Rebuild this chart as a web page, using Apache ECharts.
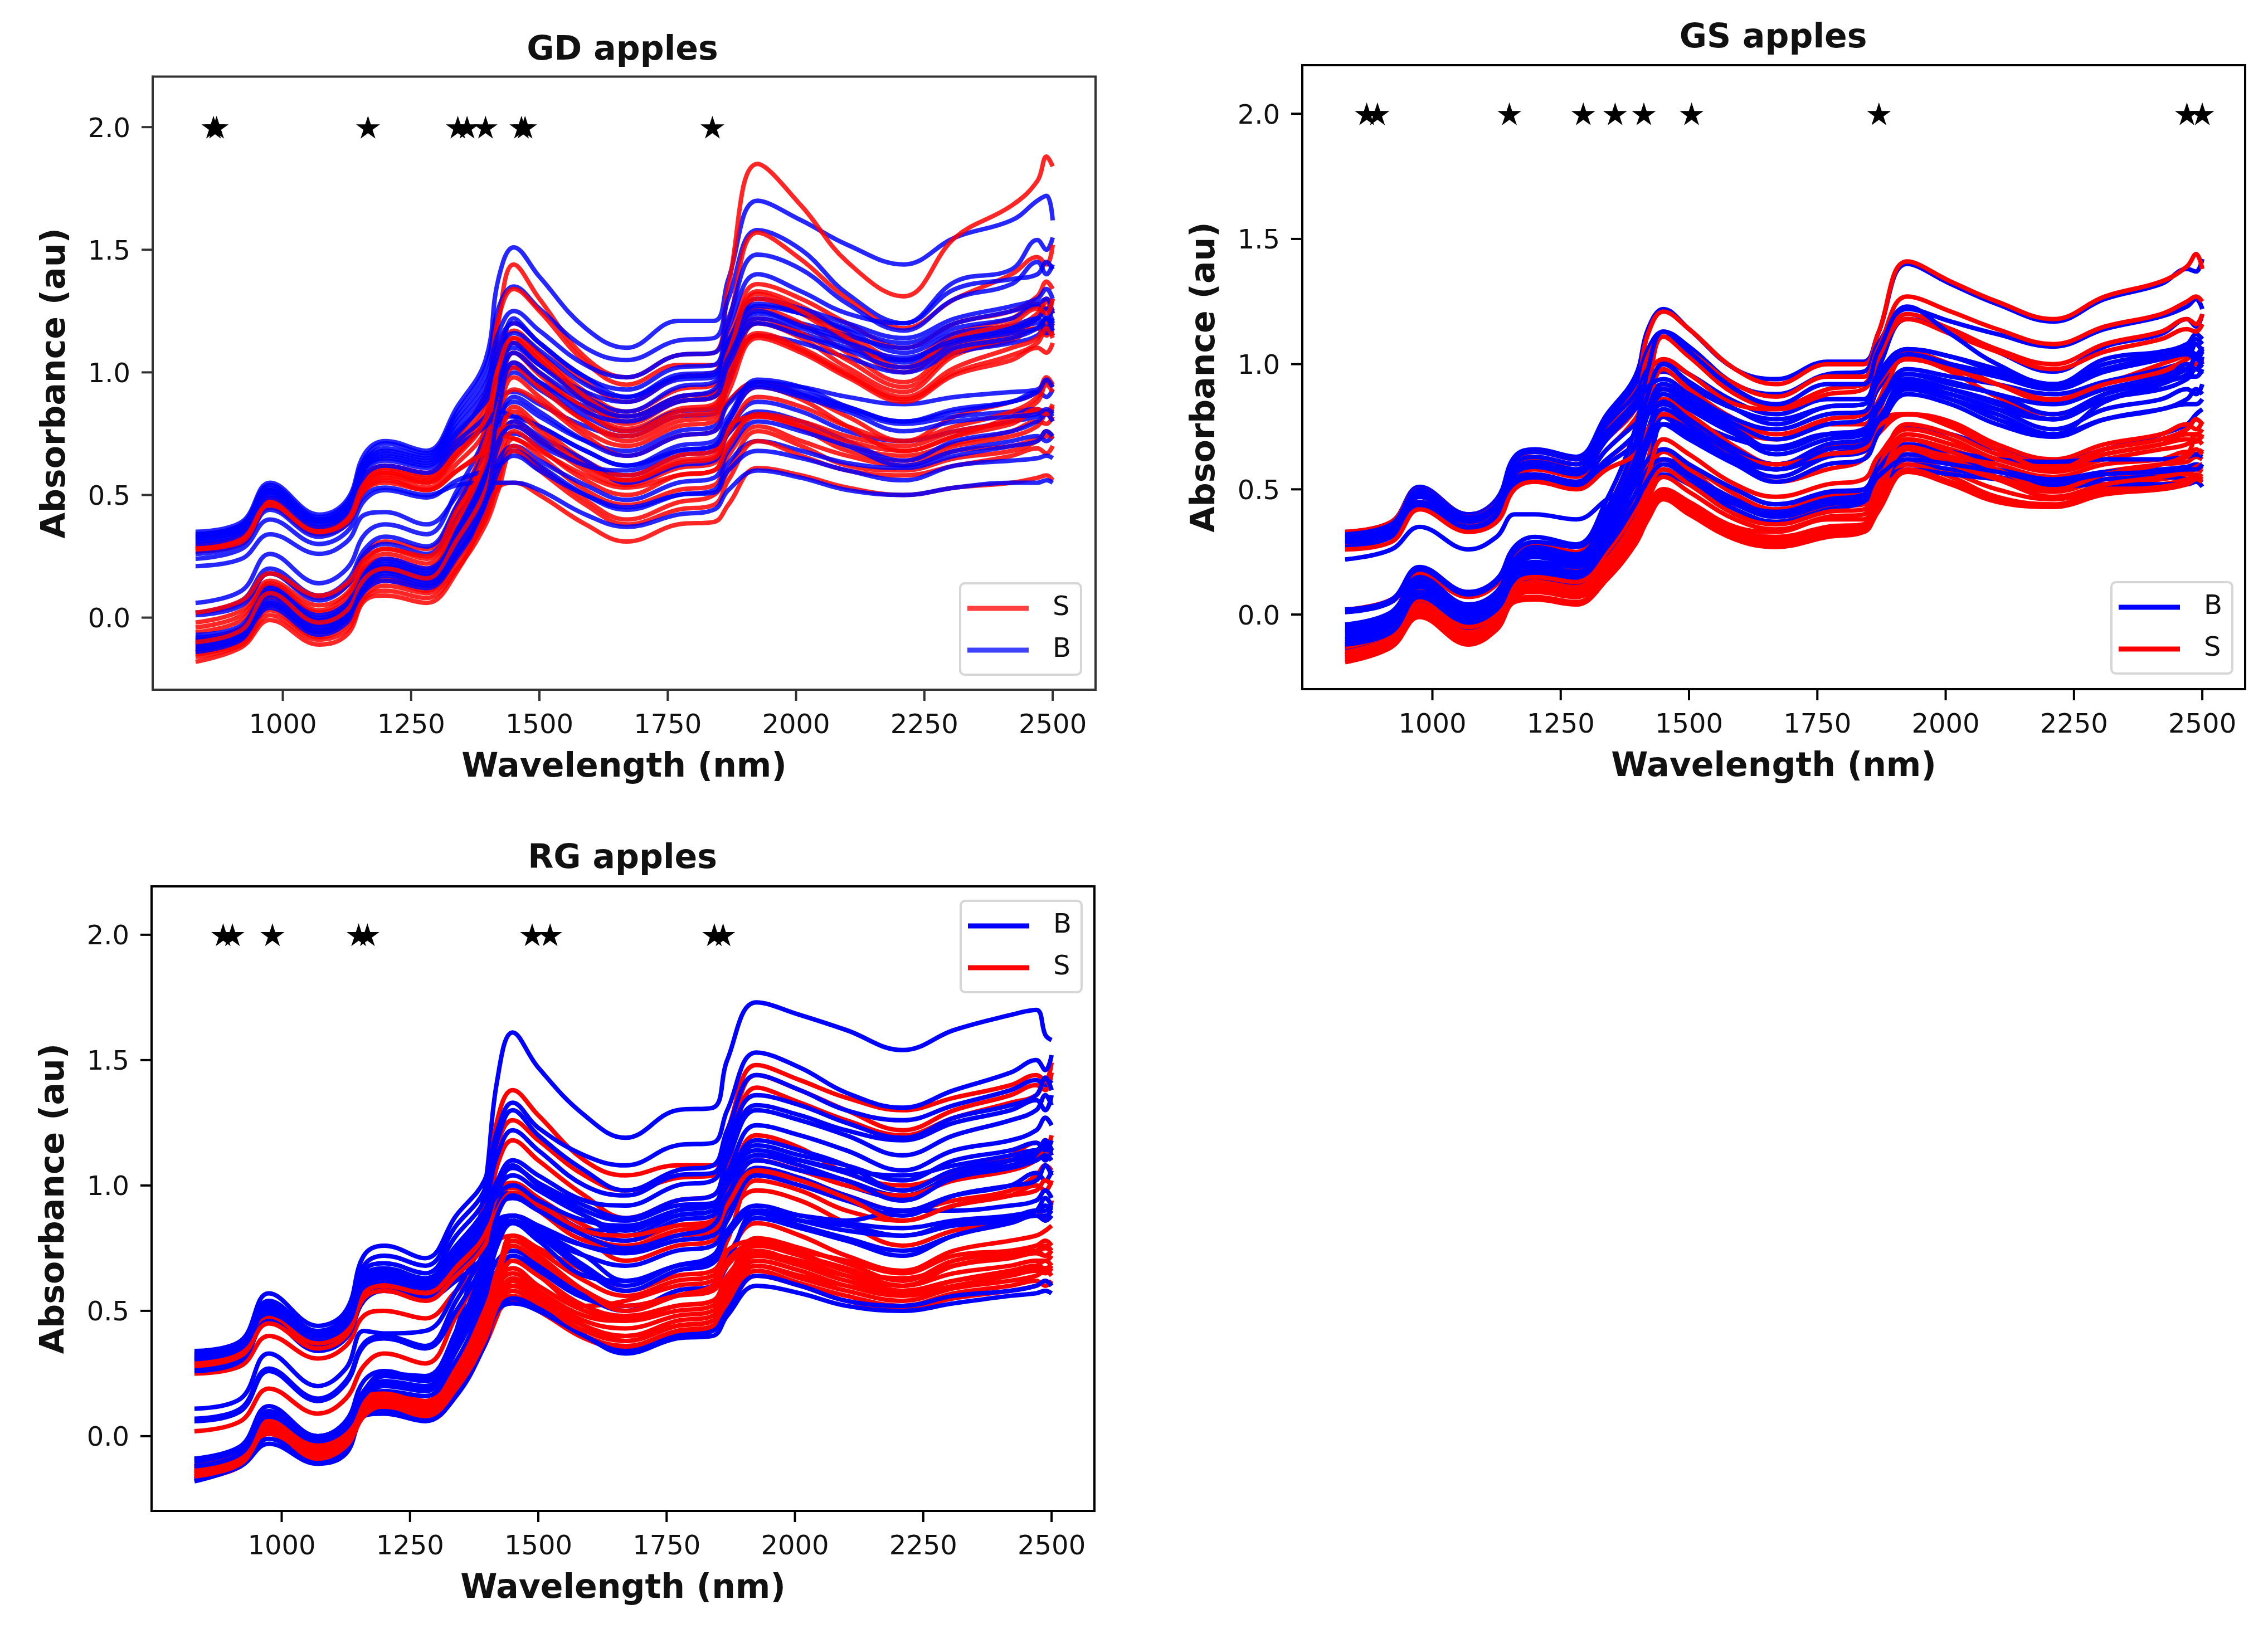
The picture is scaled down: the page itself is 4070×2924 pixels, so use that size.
<!DOCTYPE html>
<html><head><meta charset="utf-8"><style>html,body{margin:0;padding:0;background:#fff}#c{width:4070px;height:2924px}</style>
<script src="https://cdn.jsdelivr.net/npm/echarts@6/dist/echarts.min.js"></script></head><body><div id="c"></div>
<script>
const wavelengths=[830,920,975,1070,1125,1160,1200,1280,1340,1395,1420,1450,1500,1590,1670,1770,1840,1868,1925,2010,2100,2210,2310,2420,2470,2488,2500];
const tickX=[1000,1250,1500,1750,2000,2250,2500];
const tickY=[0,0.5,1,1.5,2];
const gdStars=[865,871,1166,1341,1359,1395,1465,1472,1837];
const gsStars=[872,893,1150,1294,1356,1412,1505,1870,2470,2500];
const rgStars=[886,904,982,1150,1167,1488,1523,1843,1860];
const gdBEnd=[1.72,1.50,1.40,1.45,1.34,1.22,1.26,.96,1.20,.90,.84,1.18,1.22,.83,.83,.72,.76,.66,.56,.97,1.30,1.16,1.22,.85];
const gdSEnd=[1.88,1.44,1.37,1.26,1.30,1.29,1.15,.98,1.17,1.20,1.08,.95,.79,.83,.74,.76,.67,.58,.97,.84,1.24,1.18,.83];
const gsBEnd=[1.37,1.26,1.15,1.12,1.02,1.08,.95,.80,1.10,1.02,.98,.90,.84,.64,.60,.53,.53,.98,1.04,.98,1.04,1.02,.88,.58];
const gsSEnd=[1.44,1.27,1.16,1.08,1.0,1.13,1.04,.74,.78,.69,.72,.64,.63,.59,.58,.56,.55,.54,.66,.78,.59,.70,.72];
const rgBEnd=[1.60,1.46,1.40,1.43,1.30,1.36,1.10,1.18,1.27,1.16,.98,1.18,.92,.86,.88,.95,.58,.62,1.02,1.08,1.14,1.16,1.12,.90];
const rgSEnd=[1.42,1.38,1.42,1.15,1.08,.98,.86,.82,.75,.72,.70,.65,.66,.60,.62,.67,.78,.72,1.14,1.02,.66,.70,.76];
const gdB=[
[.35,.39,.55,.42,.48,.67,.72,.68,.86,1.05,1.38,1.51,1.39,1.18,1.10,1.21,1.21,1.38,1.70,1.62,1.52,1.44,1.55,1.62,1.70,1.62],
[.34,.38,.54,.41,.47,.65,.71,.67,.84,1.02,1.26,1.35,1.26,1.10,1.05,1.13,1.14,1.30,1.58,1.50,1.32,1.20,1.37,1.42,1.54,1.55],
[.34,.38,.53,.40,.46,.64,.69,.66,.82,.98,1.16,1.25,1.17,1.03,.98,1.07,1.08,1.22,1.48,1.42,1.28,1.17,1.30,1.36,1.45,1.44],
[.33,.37,.52,.40,.45,.63,.68,.65,.80,.95,1.12,1.20,1.12,.98,.93,1.02,1.03,1.18,1.40,1.33,1.24,1.20,1.34,1.38,1.40,1.42],
[.33,.37,.52,.39,.45,.62,.67,.64,.78,.92,1.05,1.10,1.03,.92,.88,.97,.98,1.12,1.30,1.26,1.20,1.14,1.22,1.27,1.30,1.30],
[.32,.36,.51,.39,.44,.61,.66,.63,.76,.88,.98,1.02,.96,.86,.82,.90,.92,1.06,1.24,1.20,1.15,1.10,1.18,1.22,1.27,1.26],
[.31,.35,.50,.38,.43,.60,.64,.61,.72,.82,.90,.92,.87,.78,.74,.82,.83,.95,1.20,1.16,1.10,1.05,1.14,1.18,1.22,1.20],
[.21,.24,.34,.26,.31,.42,.43,.38,.50,.68,.82,.88,.82,.72,.68,.76,.78,.88,.96,.94,.90,.87,.90,.92,.93,.94],
[.06,.11,.26,.14,.20,.34,.38,.34,.52,.74,.90,1.00,.93,.82,.76,.84,.85,.98,1.15,1.12,1.06,1.00,1.08,1.12,1.15,1.15],
[.02,.07,.20,.09,.15,.28,.33,.29,.46,.68,.80,.82,.78,.68,.62,.70,.72,.82,.96,.92,.86,.80,.85,.88,.92,.93],
[.01,.05,.18,.07,.13,.26,.30,.26,.41,.60,.74,.75,.70,.62,.58,.66,.68,.77,.88,.84,.76,.72,.76,.80,.82,.82],
[-.07,-.03,.13,.01,.06,.19,.24,.20,.36,.62,.92,1.22,1.12,.98,.90,.99,1.0,1.12,1.28,1.24,1.17,1.08,1.16,1.19,1.22,1.22],
[-.09,-.05,.11,-.01,.04,.17,.22,.18,.34,.58,.86,1.12,1.03,.90,.84,.94,.96,1.08,1.25,1.19,1.13,1.04,1.12,1.16,1.18,1.19],
[-.10,-.06,.09,-.03,.02,.16,.20,.16,.32,.54,.78,.90,.84,.72,.66,.74,.76,.87,.95,.91,.85,.79,.82,.84,.85,.85],
[-.11,-.07,.07,-.04,.01,.14,.19,.15,.30,.50,.70,.80,.74,.64,.55,.62,.64,.75,.84,.80,.72,.64,.72,.76,.80,.80],
[-.13,-.09,.05,-.06,-.01,.12,.17,.13,.26,.46,.64,.70,.64,.54,.48,.55,.57,.68,.80,.76,.70,.62,.68,.72,.74,.74],
[-.14,-.09,.04,-.07,-.02,.11,.15,.12,.25,.44,.60,.68,.62,.50,.44,.50,.52,.63,.72,.68,.63,.61,.66,.70,.72,.74],
[.24,.28,.40,.30,.35,.48,.52,.49,.56,.60,.62,.66,.60,.50,.45,.50,.51,.60,.68,.65,.60,.56,.62,.64,.65,.65],
[.26,.30,.44,.33,.38,.50,.53,.50,.54,.55,.55,.55,.52,.42,.37,.42,.44,.52,.60,.57,.52,.50,.53,.55,.55,.55],
[.30,.34,.49,.37,.42,.58,.62,.59,.70,.78,.84,.82,.78,.68,.62,.68,.70,.80,.97,.94,.86,.80,.84,.88,.92,.94],
[.32,.36,.51,.39,.44,.61,.65,.62,.75,.90,1.08,1.16,1.09,.95,.90,.98,.99,1.13,1.27,1.24,1.18,1.12,1.20,1.25,1.28,1.24],
[-.08,-.04,.12,0,.05,.18,.23,.19,.35,.60,.90,1.08,1.0,.88,.82,.90,.93,1.06,1.22,1.18,1.12,1.06,1.13,1.17,1.20,1.18],
[-.10,-.06,.10,-.02,.03,.16,.21,.17,.33,.56,.84,1.04,.96,.84,.80,.88,.90,1.03,1.20,1.15,1.09,1.02,1.10,1.14,1.18,1.17],
[-.12,-.08,.06,-.05,0,.13,.18,.14,.28,.48,.72,.78,.72,.62,.60,.68,.70,.80,.94,.90,.84,.76,.80,.82,.83,.83],
];
const gdS=[
[-.12,-.07,.09,-.03,.02,.16,.20,.15,.34,.80,1.20,1.44,1.30,1.06,.98,1.07,1.08,1.35,1.85,1.68,1.45,1.31,1.55,1.68,1.78,1.84],
[.30,.34,.49,.37,.42,.58,.62,.59,.74,.92,1.22,1.34,1.25,1.04,.95,1.03,1.03,1.20,1.57,1.46,1.30,1.18,1.30,1.40,1.47,1.52],
[.29,.33,.48,.36,.41,.57,.61,.58,.72,.88,1.10,1.20,1.12,.96,.88,.98,1.0,1.14,1.36,1.30,1.20,1.10,1.20,1.25,1.31,1.34],
[.29,.33,.47,.36,.41,.56,.60,.57,.70,.85,1.06,1.17,1.08,.92,.84,.93,.95,1.10,1.33,1.27,1.16,1.05,1.16,1.22,1.28,1.30],
[.28,.32,.47,.35,.40,.55,.59,.56,.68,.82,1.0,1.12,1.05,.88,.79,.88,.90,1.06,1.30,1.24,1.12,1.00,1.12,1.18,1.24,1.28],
[.28,.32,.46,.35,.40,.54,.58,.55,.66,.80,.96,1.08,1.00,.85,.77,.85,.87,1.03,1.26,1.20,1.08,.96,1.10,1.16,1.22,1.24],
[.27,.31,.46,.34,.39,.53,.57,.53,.63,.76,.92,1.04,.95,.80,.72,.80,.82,.98,1.20,1.14,1.02,.92,1.07,1.13,1.18,1.20],
[.27,.30,.45,.34,.38,.52,.56,.52,.60,.70,.84,.93,.88,.74,.66,.74,.76,.88,.96,.91,.82,.72,.82,.88,.92,.95],
[.02,.06,.18,.08,.13,.26,.31,.28,.46,.72,.94,1.14,1.05,.88,.80,.88,.90,1.04,1.22,1.16,1.05,.94,1.08,1.14,1.18,1.20],
[-.02,.03,.15,.05,.10,.23,.28,.24,.42,.68,.88,1.08,.99,.84,.76,.84,.86,1.0,1.16,1.10,1.0,.90,1.02,1.10,1.14,1.15],
[-.06,-.01,.13,.02,.07,.20,.24,.20,.38,.60,.82,.98,.90,.76,.70,.78,.80,.92,1.14,1.08,.98,.88,.99,1.05,1.10,1.12],
[-.09,-.04,.11,-.01,.04,.17,.21,.17,.33,.54,.74,.86,.78,.64,.58,.66,.68,.80,.94,.89,.78,.68,.74,.82,.88,.92],
[-.11,-.06,.08,-.03,.02,.15,.19,.15,.30,.50,.68,.80,.73,.60,.54,.61,.63,.75,.83,.78,.70,.66,.71,.76,.80,.82],
[-.13,-.08,.06,-.05,0,.13,.16,.13,.27,.46,.62,.76,.69,.56,.50,.58,.60,.71,.82,.77,.68,.64,.70,.74,.78,.80],
[-.14,-.09,.05,-.06,-.01,.11,.15,.11,.24,.42,.58,.73,.66,.52,.46,.52,.54,.66,.78,.72,.66,.62,.68,.70,.73,.75],
[-.15,-.10,.03,-.08,-.03,.09,.13,.10,.22,.40,.56,.70,.62,.48,.40,.47,.50,.60,.76,.70,.62,.60,.65,.68,.72,.73],
[-.16,-.11,.01,-.09,-.05,.08,.11,.08,.20,.38,.52,.68,.60,.46,.38,.44,.46,.56,.72,.66,.60,.58,.62,.66,.69,.70],
[-.18,-.12,-.01,-.11,-.07,.07,.09,.06,.19,.42,.53,.55,.50,.38,.31,.38,.39,.46,.61,.58,.53,.50,.53,.55,.57,.56],
[.02,.07,.18,.09,.14,.24,.28,.25,.44,.62,.76,.78,.72,.62,.56,.63,.65,.76,.90,.86,.78,.72,.78,.84,.90,.94],
[.28,.31,.46,.35,.39,.52,.55,.52,.60,.68,.74,.73,.68,.58,.53,.58,.60,.70,.83,.80,.74,.70,.76,.80,.85,.87],
[.28,.32,.46,.35,.40,.55,.59,.55,.67,.81,1.02,1.14,1.07,.90,.82,.90,.92,1.08,1.32,1.25,1.14,1.02,1.14,1.20,1.26,1.30],
[-.04,.01,.14,.03,.09,.21,.26,.22,.40,.64,.86,1.02,.94,.80,.74,.82,.84,.96,1.15,1.09,.99,.89,1.0,1.07,1.12,1.14],
[-.10,-.05,.10,-.02,.03,.16,.20,.16,.32,.52,.72,.84,.76,.62,.56,.64,.66,.78,.82,.78,.72,.68,.74,.79,.84,.86],
];
const gsB=[
[.33,.37,.51,.40,.46,.63,.66,.63,.80,.95,1.14,1.22,1.14,.98,.94,1.01,1.01,1.12,1.40,1.32,1.24,1.17,1.26,1.32,1.38,1.42],
[.32,.36,.50,.40,.45,.62,.65,.62,.78,.92,1.06,1.13,1.07,.92,.88,.96,.97,1.08,1.22,1.17,1.12,1.07,1.14,1.19,1.23,1.22],
[.32,.36,.49,.39,.44,.60,.63,.60,.76,.88,.98,1.01,.96,.85,.80,.86,.86,.98,1.18,1.14,1.05,.97,1.07,1.12,1.18,1.20],
[.31,.35,.48,.38,.43,.58,.61,.58,.73,.85,.94,.97,.91,.82,.78,.83,.84,.96,1.06,1.03,.98,.92,1.02,1.05,1.08,1.10],
[.30,.34,.47,.37,.42,.56,.59,.56,.70,.82,.88,.92,.86,.76,.70,.76,.78,.90,1.02,.99,.95,.90,.97,1.02,1.05,1.06],
[.29,.33,.45,.35,.40,.54,.56,.53,.66,.76,.80,.84,.78,.70,.67,.72,.72,.82,.98,.95,.92,.88,.93,.98,1.02,1.05],
[.27,.31,.43,.34,.38,.52,.54,.51,.60,.68,.74,.76,.72,.64,.58,.64,.66,.76,.93,.90,.85,.78,.86,.92,.95,.98],
[.22,.26,.35,.26,.31,.40,.40,.38,.46,.54,.60,.62,.58,.50,.44,.48,.50,.60,.75,.72,.66,.61,.66,.72,.76,.82],
[.02,.06,.19,.09,.14,.27,.31,.28,.46,.74,.98,1.13,1.05,.90,.84,.92,.92,1.05,1.23,1.12,1.0,.92,1.0,1.04,1.06,1.08],
[.01,.05,.18,.08,.13,.25,.29,.27,.42,.68,.88,1.0,.93,.82,.76,.83,.84,.96,1.06,1.03,.97,.92,.98,1.02,1.04,1.05],
[-.05,0,.14,.03,.09,.22,.26,.23,.38,.62,.82,.92,.86,.74,.66,.72,.74,.84,.94,.90,.84,.78,.86,.90,.94,.96],
[-.06,-.01,.13,.02,.07,.21,.25,.22,.36,.58,.74,.85,.78,.66,.60,.68,.70,.78,.90,.86,.78,.72,.78,.82,.86,.88],
[-.08,-.03,.12,.01,.06,.19,.23,.20,.34,.54,.68,.80,.74,.62,.55,.63,.65,.74,.88,.84,.76,.71,.78,.82,.84,.86],
[-.09,-.04,.11,0,.05,.18,.21,.19,.32,.52,.62,.66,.60,.50,.44,.49,.50,.58,.68,.65,.62,.61,.62,.62,.63,.63],
[-.10,-.05,.09,-.01,.04,.17,.20,.17,.30,.48,.58,.62,.56,.46,.40,.45,.47,.55,.64,.61,.58,.54,.57,.58,.59,.59],
[-.11,-.06,.08,-.02,.03,.15,.19,.16,.28,.44,.54,.58,.53,.44,.39,.44,.46,.53,.60,.58,.55,.52,.54,.55,.54,.54],
[-.12,-.07,.07,-.04,.02,.14,.17,.14,.26,.42,.52,.56,.52,.42,.37,.42,.45,.52,.58,.56,.54,.51,.52,.52,.52,.51],
[-.13,-.08,.06,-.05,0,.13,.16,.13,.25,.42,.55,.76,.70,.60,.53,.60,.62,.72,.90,.86,.80,.72,.85,.92,1.0,1.03],
[-.14,-.08,.04,-.06,-.01,.11,.15,.12,.24,.40,.54,.79,.72,.62,.58,.64,.67,.76,.92,.88,.82,.78,.88,.93,.96,1.0],
[.29,.32,.44,.35,.39,.53,.55,.52,.62,.72,.80,.88,.82,.72,.66,.72,.73,.84,.96,.93,.88,.84,.90,.95,.98,1.0],
[.31,.35,.48,.38,.43,.57,.60,.57,.71,.83,.91,.94,.88,.78,.74,.80,.81,.93,1.04,1.0,.96,.91,.98,1.03,1.06,1.07],
[-.04,.01,.15,.04,.09,.22,.27,.24,.39,.62,.80,.90,.84,.72,.64,.70,.72,.82,.96,.92,.88,.80,.88,.94,.98,1.0],
[-.07,-.02,.13,.02,.07,.20,.24,.21,.35,.56,.72,.82,.76,.64,.58,.66,.68,.77,.91,.88,.82,.74,.82,.86,.90,.92],
[-.12,-.07,.07,-.03,.02,.14,.18,.15,.27,.44,.54,.60,.55,.45,.41,.46,.48,.55,.62,.60,.57,.53,.56,.57,.58,.60],
];
const gsS=[
[.33,.37,.50,.40,.45,.61,.65,.62,.76,.90,1.12,1.21,1.14,.98,.92,1.0,1.0,1.12,1.41,1.33,1.25,1.18,1.27,1.33,1.39,1.38],
[.31,.35,.48,.39,.44,.58,.62,.60,.74,.86,1.03,1.11,1.05,.92,.87,.95,.95,1.06,1.27,1.21,1.14,1.08,1.15,1.20,1.25,1.25],
[.30,.34,.47,.37,.42,.56,.60,.57,.70,.82,.96,1.02,.96,.84,.82,.88,.90,1.02,1.20,1.14,1.06,1.0,1.08,1.13,1.18,1.20],
[.29,.33,.45,.36,.41,.54,.58,.55,.66,.78,.88,.90,.85,.74,.70,.76,.76,.85,1.05,1.0,.92,.85,.92,1.0,1.04,1.05],
[.28,.32,.44,.35,.40,.52,.56,.53,.62,.72,.82,.86,.80,.66,.60,.67,.70,.80,1.03,.97,.87,.80,.88,.96,1.0,1.02],
[.02,.06,.17,.08,.13,.25,.28,.25,.42,.68,.90,1.11,1.03,.88,.83,.90,.92,1.03,1.18,1.12,1.05,.98,1.05,1.1,1.14,1.16],
[.01,.05,.16,.07,.12,.24,.27,.24,.40,.64,.82,.98,.90,.78,.72,.78,.80,.92,1.02,.98,.92,.86,.92,.97,1.02,1.0],
[-.07,-.02,.10,0,.05,.17,.20,.18,.32,.55,.72,.85,.80,.67,.60,.66,.68,.78,.80,.77,.68,.62,.68,.72,.76,.77],
[-.10,-.05,.07,-.03,.02,.14,.16,.14,.28,.48,.62,.80,.74,.62,.53,.58,.62,.72,.80,.75,.66,.60,.66,.70,.74,.76],
[-.11,-.06,.06,-.04,.01,.13,.14,.12,.24,.44,.56,.66,.60,.48,.42,.47,.48,.58,.76,.72,.64,.59,.64,.68,.70,.72],
[-.12,-.07,.05,-.05,0,.12,.13,.11,.22,.40,.54,.65,.58,.45,.40,.45,.46,.56,.72,.68,.62,.57,.62,.66,.68,.70],
[-.13,-.08,.05,-.06,-.01,.11,.13,.10,.21,.36,.50,.62,.56,.42,.37,.43,.44,.54,.70,.66,.60,.55,.60,.62,.65,.66],
[-.14,-.09,.04,-.07,-.02,.10,.12,.10,.20,.34,.44,.50,.45,.35,.33,.38,.38,.50,.68,.63,.58,.52,.57,.60,.61,.62],
[-.15,-.10,.03,-.08,-.03,.09,.11,.09,.19,.32,.42,.49,.44,.34,.31,.35,.36,.48,.64,.60,.54,.49,.54,.56,.58,.58],
[-.16,-.10,.02,-.09,-.04,.08,.10,.08,.18,.31,.41,.48,.43,.33,.29,.34,.35,.45,.62,.57,.50,.46,.51,.54,.56,.57],
[-.17,-.11,.01,-.10,-.05,.07,.09,.07,.17,.30,.40,.48,.42,.32,.28,.33,.34,.43,.60,.55,.47,.44,.50,.52,.54,.55],
[-.18,-.12,0,-.11,-.06,.06,.07,.05,.15,.29,.39,.47,.41,.31,.27,.32,.33,.42,.58,.53,.46,.43,.49,.51,.53,.54],
[-.19,-.13,-.01,-.12,-.06,.05,.06,.04,.14,.28,.38,.46,.40,.30,.27,.31,.33,.41,.57,.52,.45,.43,.48,.50,.52,.53],
[-.16,-.10,.03,-.08,-.03,.09,.12,.09,.20,.34,.46,.55,.49,.38,.34,.39,.40,.50,.67,.62,.55,.50,.56,.60,.63,.64],
[.26,.29,.42,.33,.37,.50,.53,.50,.58,.64,.74,.80,.76,.64,.60,.64,.66,.75,.80,.76,.66,.58,.66,.70,.74,.76],
[-.17,-.11,.02,-.09,-.05,.07,.10,.07,.18,.32,.42,.50,.45,.34,.30,.35,.36,.46,.66,.60,.54,.47,.52,.55,.57,.60],
[-.15,-.09,.04,-.07,-.02,.10,.13,.11,.22,.38,.50,.58,.52,.40,.36,.41,.42,.52,.70,.65,.58,.50,.56,.60,.64,.68],
[-.13,-.07,.06,-.05,0,.12,.15,.13,.25,.42,.56,.70,.64,.52,.47,.52,.54,.63,.74,.70,.62,.58,.64,.68,.72,.74],
];
const rgB=[
[-.09,-.04,.12,0,.06,.22,.26,.22,.42,.98,1.42,1.61,1.47,1.28,1.19,1.30,1.31,1.50,1.73,1.68,1.62,1.54,1.62,1.68,1.70,1.58],
[.34,.38,.57,.44,.50,.72,.76,.71,.88,1.02,1.22,1.33,1.23,1.12,1.08,1.16,1.17,1.30,1.53,1.47,1.37,1.31,1.38,1.45,1.50,1.52],
[.33,.37,.54,.42,.48,.68,.72,.68,.84,.98,1.18,1.30,1.20,1.06,.98,1.06,1.08,1.22,1.44,1.38,1.30,1.26,1.32,1.38,1.42,1.42],
[.33,.37,.53,.41,.47,.66,.69,.65,.80,.94,1.12,1.22,1.14,1.0,.96,1.04,1.05,1.18,1.36,1.32,1.25,1.19,1.27,1.32,1.36,1.38],
[.32,.36,.52,.40,.46,.64,.67,.63,.76,.90,1.02,1.10,1.04,.94,.92,1.0,1.02,1.14,1.32,1.28,1.22,1.18,1.25,1.30,1.34,1.36],
[.31,.35,.51,.39,.45,.62,.65,.61,.72,.86,1.0,1.07,1.01,.92,.87,.94,.96,1.10,1.30,1.26,1.20,1.12,1.20,1.26,1.30,1.32],
[.30,.34,.50,.38,.44,.60,.63,.59,.70,.82,.92,.95,.90,.82,.83,.88,.90,1.02,1.12,1.10,1.06,1.04,1.08,1.12,1.14,1.15],
[.29,.33,.49,.37,.43,.58,.62,.57,.66,.78,.86,.88,.84,.76,.73,.78,.80,.92,1.10,1.06,1.0,.95,1.04,1.08,1.12,1.14],
[.11,.15,.33,.20,.27,.42,.41,.42,.58,.80,1.0,1.07,1.01,.90,.86,.92,.93,1.05,1.24,1.20,1.14,1.06,1.14,1.18,1.22,1.24],
[.07,.11,.27,.15,.22,.37,.40,.36,.54,.74,.90,1.0,.93,.82,.78,.86,.88,1.0,1.12,1.08,1.02,.96,1.04,1.1,1.14,1.14],
[.06,.10,.26,.14,.21,.36,.39,.35,.50,.70,.84,.88,.82,.72,.62,.68,.70,.80,.90,.88,.86,.90,.90,.92,.94,.95],
[-.09,-.04,.10,0,.05,.18,.25,.24,.42,.70,.94,1.08,1.0,.88,.80,.88,.90,1.02,1.18,1.14,1.08,.98,1.06,1.1,1.12,1.14],
[-.10,-.05,.09,-.01,.04,.17,.24,.22,.38,.65,.82,.88,.82,.68,.60,.68,.70,.82,.92,.88,.85,.83,.86,.88,.90,.90],
[-.11,-.06,.08,-.02,.03,.16,.22,.20,.36,.62,.78,.86,.80,.66,.58,.66,.69,.80,.90,.86,.82,.80,.84,.86,.88,.88],
[-.12,-.07,.07,-.03,.02,.15,.20,.18,.34,.58,.70,.74,.68,.56,.50,.58,.60,.70,.87,.83,.78,.72,.80,.85,.88,.90],
[-.13,-.08,.06,-.04,.01,.14,.18,.16,.30,.54,.66,.72,.66,.55,.52,.56,.60,.68,.89,.84,.79,.74,.80,.86,.90,.92],
[-.18,-.12,-.03,-.11,-.07,.08,.09,.06,.16,.36,.50,.53,.50,.40,.33,.39,.40,.48,.60,.57,.52,.50,.53,.56,.57,.57],
[-.17,-.11,-.01,-.10,-.06,.09,.10,.07,.18,.40,.50,.55,.51,.40,.34,.40,.42,.50,.64,.60,.54,.52,.56,.58,.60,.60],
[.27,.31,.47,.36,.41,.56,.60,.56,.64,.76,.86,.88,.83,.76,.74,.80,.81,.90,1.07,1.03,.96,.90,.96,1.0,1.05,1.06],
[.26,.30,.46,.34,.39,.54,.58,.55,.62,.72,.82,.86,.80,.72,.68,.74,.76,.86,1.04,1.0,.94,.88,.96,1.0,1.02,1.04],
[.31,.35,.50,.39,.44,.60,.64,.60,.71,.84,.98,1.04,.98,.88,.82,.90,.92,1.04,1.16,1.12,1.08,1.02,1.10,1.14,1.17,1.18],
[.32,.36,.51,.40,.45,.62,.66,.62,.74,.88,.96,1.0,.94,.86,.84,.90,.92,1.04,1.14,1.10,1.05,.98,1.06,1.10,1.13,1.12],
[-.10,-.05,.10,0,.05,.18,.24,.23,.40,.66,.88,.96,.90,.80,.75,.80,.84,.96,1.10,1.06,1.02,.94,1.03,1.07,1.10,1.10],
[-.12,-.07,.08,-.02,.03,.16,.21,.19,.35,.58,.76,.85,.78,.64,.62,.68,.72,.82,.90,.86,.84,.80,.85,.87,.90,.92],
];
const rgS=[
[.31,.35,.50,.39,.44,.60,.65,.60,.72,.92,1.26,1.38,1.28,1.10,1.04,1.08,1.08,1.22,1.48,1.42,1.35,1.30,1.35,1.40,1.44,1.49],
[.30,.34,.48,.38,.43,.58,.63,.58,.70,.88,1.16,1.26,1.18,1.04,.98,1.03,1.04,1.16,1.44,1.38,1.30,1.22,1.30,1.36,1.40,1.45],
[.29,.33,.47,.37,.42,.57,.61,.57,.68,.84,1.08,1.18,1.10,.96,.87,.94,.96,1.08,1.39,1.33,1.26,1.20,1.27,1.33,1.36,1.38],
[.28,.32,.46,.36,.41,.56,.60,.56,.66,.82,.98,1.01,.95,.84,.78,.84,.86,.98,1.20,1.15,1.05,1.0,1.05,1.12,1.17,1.2],
[.27,.31,.46,.36,.40,.55,.59,.55,.64,.78,.94,.97,.92,.80,.76,.82,.84,.95,1.05,1.02,.96,.90,.94,.98,1.04,1.06],
[.25,.28,.40,.31,.36,.48,.50,.47,.58,.70,.78,.80,.75,.66,.58,.64,.66,.78,1.02,.98,.90,.86,.92,.96,1.0,1.02],
[.02,.06,.19,.09,.15,.28,.33,.29,.48,.70,.92,1.0,.95,.80,.70,.76,.78,.88,.98,.94,.85,.76,.82,.86,.90,.94],
[-.13,-.08,.05,-.05,0,.13,.18,.14,.30,.52,.66,.70,.64,.52,.54,.60,.62,.72,.85,.80,.72,.66,.74,.78,.80,.84],
[-.14,-.09,.05,-.06,-.01,.12,.17,.13,.28,.48,.62,.67,.60,.50,.47,.52,.54,.62,.79,.75,.69,.62,.70,.73,.74,.74],
[-.14,-.09,.04,-.07,-.02,.11,.16,.12,.26,.46,.60,.65,.58,.48,.46,.50,.52,.60,.76,.72,.67,.60,.68,.71,.73,.74],
[-.15,-.10,.04,-.07,-.03,.10,.15,.11,.24,.44,.56,.63,.56,.46,.43,.48,.50,.58,.73,.70,.64,.58,.62,.66,.68,.68],
[-.15,-.10,.03,-.08,-.03,.10,.14,.10,.22,.42,.54,.60,.54,.44,.40,.46,.48,.56,.70,.66,.60,.56,.60,.64,.66,.67],
[-.16,-.11,.03,-.08,-.04,.09,.13,.09,.20,.40,.52,.58,.52,.42,.38,.44,.46,.54,.68,.63,.58,.54,.59,.62,.64,.64],
[-.16,-.11,.02,-.09,-.04,.09,.12,.08,.18,.38,.50,.56,.50,.40,.36,.42,.44,.52,.66,.61,.56,.52,.57,.60,.62,.62],
[-.17,-.12,.01,-.09,-.05,.08,.11,.07,.17,.36,.49,.54,.50,.39,.35,.41,.43,.50,.64,.60,.54,.51,.55,.58,.60,.60],
[-.17,-.12,.01,-.10,-.05,.08,.10,.07,.17,.36,.48,.62,.56,.44,.38,.44,.46,.55,.68,.64,.60,.57,.62,.66,.68,.68],
[-.12,-.07,.06,-.03,.02,.15,.17,.13,.27,.50,.64,.80,.74,.62,.56,.62,.64,.74,.78,.74,.70,.65,.72,.74,.76,.76],
[-.13,-.08,.05,-.04,.01,.14,.16,.12,.26,.48,.66,.78,.72,.58,.50,.56,.60,.68,.78,.72,.66,.60,.68,.72,.74,.74],
[.29,.33,.47,.37,.42,.57,.60,.57,.67,.80,.96,.99,.93,.82,.80,.84,.85,.96,1.10,1.06,1.0,.96,1.02,1.06,1.10,1.12],
[.28,.32,.45,.35,.40,.55,.58,.54,.64,.76,.90,.97,.90,.78,.76,.80,.82,.92,1.06,1.02,.95,.86,.92,.96,.98,1.0],
[-.16,-.11,.02,-.09,-.04,.08,.12,.08,.19,.38,.52,.60,.54,.42,.40,.44,.46,.54,.72,.68,.62,.58,.62,.65,.67,.68],
[-.15,-.10,.04,-.07,-.02,.10,.14,.10,.22,.42,.56,.70,.64,.52,.48,.52,.54,.64,.74,.69,.64,.60,.65,.68,.70,.72],
[-.14,-.09,.06,-.05,0,.12,.16,.12,.25,.46,.62,.76,.70,.58,.52,.56,.58,.70,.77,.73,.66,.63,.68,.72,.74,.74],
];

const STAR='path://M0,-100 L22,-31 95,-31 36,12 59,81 0,38 -59,81 -36,12 -95,-31 -22,-31 Z';
const panels=[
 {title:'GD apples',S:gdS,B:gdB,SEnd:gdSEnd,BEnd:gdBEnd,stars:gdStars,frame:[274,137.5,1692,1100.5],y:[-0.294,2.206],ink:'#333333',alpha:.85,titleXY:[1112,56],
  legend:{left:1723,top:1047,order:['S','B'],colors:{S:'#ff4040',B:'#4040ff'}}},
 {title:'GS apples',S:gsS,B:gsB,SEnd:gsSEnd,BEnd:gsBEnd,stars:gsStars,frame:[2337,117,1692,1120],y:[-0.298,2.194],ink:'#000000',alpha:1,titleXY:[3177,34],
  legend:{left:3789,top:1045,order:['B','S'],colors:{S:'#ff0000',B:'#0000ff'}}},
 {title:'RG apples',S:rgS,B:rgB,SEnd:rgSEnd,BEnd:rgBEnd,stars:rgStars,frame:[272,1591,1692,1121],y:[-0.298,2.193],ink:'#000000',alpha:1,titleXY:[1112,1507],
  legend:{left:1724,top:1617,order:['B','S'],colors:{S:'#ff0000',B:'#0000ff'}}}
];
const pure={S:'#ff0000',B:'#0000ff'};
const XMIN=746.5,XMAX=2583.5;
const grids=[],xs=[],ys=[],series=[],titles=[],legends=[];
panels.forEach((p,i)=>{
 grids.push({left:p.frame[0],top:p.frame[1],width:p.frame[2],height:p.frame[3],show:true,borderColor:p.ink,borderWidth:4,backgroundColor:'#fff'});
 const tickCfg={show:false};
 const lineCfg={show:true,onZero:false,lineStyle:{color:p.ink,width:4}};
 xs.push({type:'value',gridIndex:i,position:'bottom',min:XMIN,max:XMAX,splitLine:{show:false},axisLine:lineCfg,axisTick:tickCfg,
  axisLabel:{customValues:tickX,margin:42,fontSize:48,color:'#111',fontFamily:'DejaVu Sans',formatter:v=>String(v)},
  name:'Wavelength (nm)',nameLocation:'middle',nameGap:110,nameTextStyle:{fontSize:60,fontWeight:'bold',color:'#111',fontFamily:'DejaVu Sans'}});
 ys.push({type:'value',gridIndex:i,position:'left',min:p.y[0],max:p.y[1],splitLine:{show:false},axisLine:lineCfg,axisTick:tickCfg,
  axisLabel:{customValues:tickY,margin:40,verticalAlign:'top',lineHeight:10,fontSize:48,color:'#111',fontFamily:'DejaVu Sans',formatter:v=>v.toFixed(1)},
  name:'Absorbance (au)',nameLocation:'middle',nameGap:144,nameRotate:90,nameTextStyle:{fontSize:60,fontWeight:'bold',color:'#111',fontFamily:'DejaVu Sans'}});
 const n=Math.max(p.S.length,p.B.length);
 const add=(name,row,end)=>{const vals=[...row.slice(0,25),end,row[25]];
  series.push({type:'line',name,xAxisIndex:i,yAxisIndex:i,data:vals.map((v,k)=>[wavelengths[k],v]),smooth:.4,
   symbol:'none',silent:true,lineStyle:{width:8,color:pure[name],opacity:p.alpha},z:2});};
 for(let k=0;k<n;k++){ if(p.B[k])add('B',p.B[k],p.BEnd[k]); if(p.S[k])add('S',p.S[k],p.SEnd[k]); }
 series.push({type:'scatter',xAxisIndex:i,yAxisIndex:i,data:p.stars.map(x=>[x,2]),symbol:STAR,symbolSize:[43,41],itemStyle:{color:'#000',opacity:1},z:5,silent:true});
 series.push({type:'scatter',xAxisIndex:i,yAxisIndex:i,clip:false,silent:true,z:6,data:tickX.map(x=>[x,p.y[0]]),symbol:'rect',symbolSize:[4,20],symbolOffset:[0,10],itemStyle:{color:p.ink,opacity:1}});
 series.push({type:'scatter',xAxisIndex:i,yAxisIndex:i,clip:false,silent:true,z:6,data:tickY.map(y=>[XMIN,y]),symbol:'rect',symbolSize:[20,4],symbolOffset:[-10,0],itemStyle:{color:p.ink,opacity:1}});
 titles.push({text:p.title,left:p.titleXY[0],top:p.titleXY[1],textAlign:'center',textStyle:{fontSize:60,fontWeight:'bold',color:'#111',fontFamily:'DejaVu Sans'}});
 legends.push({left:p.legend.left,top:p.legend.top,orient:'vertical',icon:'rect',itemWidth:110,itemHeight:9,itemGap:27,selectedMode:false,
  padding:[21,18,20,13],backgroundColor:'#fff',borderColor:'#d6d6d6',borderWidth:4,borderRadius:8,z:10,
  textStyle:{fontSize:48,color:'#111',fontFamily:'DejaVu Sans',padding:[0,0,0,38]},
  data:p.legend.order.map(nm=>({name:nm,icon:'rect',itemStyle:{color:p.legend.colors[nm],opacity:1}}))});
});
const chart=echarts.init(document.getElementById('c'),null,{renderer:'canvas',width:4070,height:2924});
chart.setOption({animation:false,backgroundColor:'#fff',title:titles,grid:grids,xAxis:xs,yAxis:ys,legend:legends,series});
</script></body></html>
